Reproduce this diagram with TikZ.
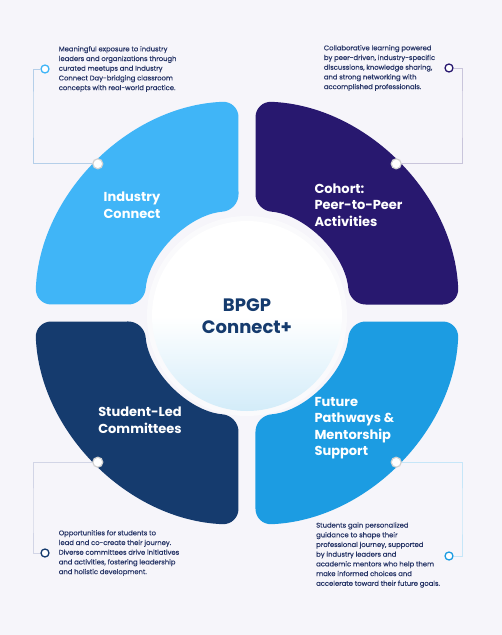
\documentclass[tikz,border=0pt]{standalone}
\usepackage{fontspec}
\setmainfont{Poppins}
\newfontfamily\descfont{Poppins}[FakeBold=0.35]
\definecolor{pagebg}{HTML}{F6F5FA}
\definecolor{skyblue}{HTML}{40B5F7}
\definecolor{deepindigo}{HTML}{28186F}
\definecolor{navyblue}{HTML}{153B6E}
\definecolor{oceanblue}{HTML}{1C9CE2}
\definecolor{inktext}{HTML}{263466}
\definecolor{hubblue}{HTML}{D3ECF9}
\definecolor{linkgray}{HTML}{D2D5E6}
\usetikzlibrary{positioning}
\tikzset{
	petal/.style={text=white, font=\bfseries\fontsize{13}{16.5}\selectfont, align=center},
	hub/.style={circle, minimum size=190pt, inner sep=0pt, shading=axis, top color=white, bottom color=hubblue, middle color=white, text=navyblue, font=\bfseries\fontsize{18}{22}\selectfont, align=center},
	desc/.style={text=inktext, font=\descfont\fontsize{6.8}{9.7}\selectfont, align=left, inner sep=2pt},
	pin/.style={circle, fill=white, draw=gray!35, line width=1.2pt, minimum size=10pt, inner sep=0pt},
	dot/.style={circle, fill=white, line width=1.3pt, minimum size=8pt, inner sep=0pt},
	link/.style={line width=0.7pt, draw=linkgray},
}
\begin{document}
\begin{tikzpicture}[x=1pt, y=1pt]
		\fill[pagebg] (-247,-322) rectangle (255,313);
		% four petals round the hub
		\foreach \ang/\col in {0/deepindigo, 90/skyblue, 180/navyblue, 270/oceanblue}
			\fill[\col, rotate=\ang, rounded corners=16pt] (157,8.5) -- (211.83,8.5) arc[start angle=2.30, end angle=87.70, radius=212pt] -- (8.5,102.65) arc[start angle=85.27, end angle=4.73, radius=103pt] -- cycle;
		\fill[white, opacity=0.5] (0,-3) circle[radius=100pt];
		\node[hub] (hub) at (0,-3) {BPGP\\Connect+};
		\node[petal] (ind) at (-115,108) {Industry\\Connect};
		\node[petal, anchor=west, align=left] (coh) at (64,108) {Cohort:\\Peer-to-Peer\\Activities};
		\node[petal] (stu) at (-107,-107) {Student-Led\\Committees};
		\node[petal, anchor=west, align=left] (fut) at (64,-115) {Future\\Pathways \&\\Mentorship\\Support};
		% pins and end dots
		\node[pin] (p1) at (135:211) {};
		\node[pin] (p2) at (45:211) {};
		\node[pin] (p3) at (225:211) {};
		\node[pin] (p4) at (315:211) {};
		\node[dot, draw=skyblue] (d1) at (-202,244) {};
		\node[dot, draw=deepindigo] (d2) at (202,245) {};
		\node[dot, draw=navyblue] (d3) at (-202,-240) {};
		\node[dot, draw=oceanblue] (d4) at (202,-243) {};
		\coordinate (k1) at (-214,200);
		\coordinate (k2) at (215,200);
		\coordinate (k3) at (-214,-200);
		\coordinate (k4) at (215,-200);
		\draw[link, draw=skyblue!20!linkgray] (p1) -| (k1) |- (d1);
		\draw[link, draw=deepindigo!25] (p2) -| (k2) |- (d2);
		\draw[link] (p3) -| (k3) |- (d3);
		\draw[link, draw=oceanblue!25] (p4) -| (k4) |- (d4);
		% descriptions
		\node[desc, right=7pt of d1] (t1) {Meaningful exposure to industry\\leaders and organizations through\\curated meetups and Industry\\Connect Day-bridging classroom\\concepts with real-world practice.};
		\node[desc, left=7pt of d2] (t2) {Collaborative learning powered\\by peer-driven, industry-specific\\discussions, knowledge sharing,\\and strong networking with\\accomplished professionals.};
		\node[desc, right=7pt of d3] (t3) {Opportunities for students to\\lead and co-create their journey.\\Diverse committees drive initiatives\\and activities, fostering leadership\\and holistic development.};
		\node[desc, anchor=west] (t4) at (67,-242) {Students gain personalized\\guidance to shape their\\professional journey, supported\\by industry leaders and\\academic mentors who help them\\make informed choices and\\accelerate toward their future goals.};
	\end{tikzpicture}
\end{document}
